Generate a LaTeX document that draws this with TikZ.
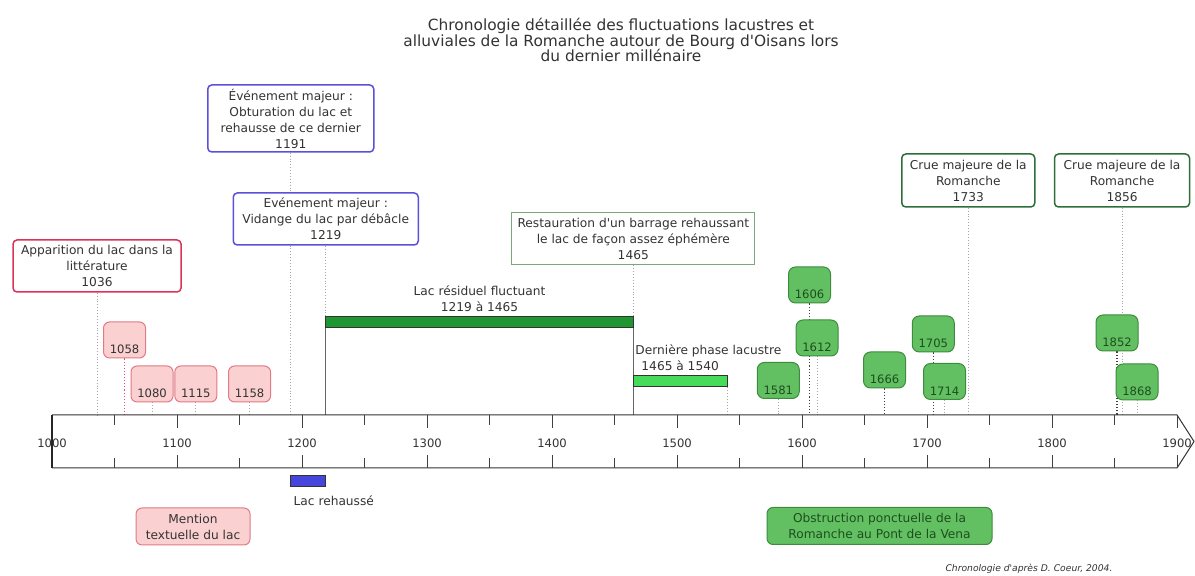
\documentclass[tikz,border=0pt]{standalone}
\usepackage{fontspec}
\setmainfont{DejaVu Sans}
\usetikzlibrary{positioning,backgrounds}
\definecolor{txtgray}{HTML}{333333}
\definecolor{evblue}{HTML}{5A50DC}
\definecolor{evred}{HTML}{DC325A}
\definecolor{mentfill}{HTML}{FAD0D0}
\definecolor{mentdraw}{HTML}{E07A86}
\definecolor{obsfill}{HTML}{62C062}
\definecolor{obsdraw}{HTML}{3C8C3C}
\definecolor{obstext}{HTML}{1E4E1E}
\definecolor{cruedraw}{HTML}{2E6E3A}
\definecolor{restodraw}{HTML}{7AA87A}
\definecolor{lacdark}{HTML}{1E9632}
\definecolor{laclight}{HTML}{46DC5A}
\definecolor{lacblue}{HTML}{4646DC}
\newcommand{\boxfont}{\fontsize{6.1}{8}\selectfont}
\newcommand{\yrfont}{\fontsize{5.8}{7}\selectfont}
\newcommand{\titlefont}{\fontsize{7.7}{7.9}\selectfont}
\newcommand{\apos}{\textquotesingle}
\tikzset{
  event/.style    = {draw, fill=white, rounded corners=2pt, line width=0.75pt, align=center,
                     inner xsep=2pt, inner ysep=1pt, font=\boxfont, text=txtgray},
  mention/.style  = {draw=mentdraw, fill=mentfill, rounded corners=3pt, line width=0.5pt,
                     minimum width=21pt, inner xsep=0pt, inner ysep=1.5pt,
                     text height=14.5pt, text depth=0.5pt, font=\yrfont, text=txtgray},
  obstr/.style    = {draw=obsdraw, fill=obsfill, rounded corners=3.5pt, line width=0.5pt,
                     minimum width=21pt, inner xsep=0pt, inner ysep=1.5pt,
                     text height=14.5pt, text depth=0.5pt, font=\yrfont, text=obstext},
  legbox/.style   = {rounded corners=3pt, line width=0.5pt, align=center, font=\boxfont,
                     minimum height=18.5pt, inner sep=1pt},
  conn/.style     = {densely dotted, black!35, line width=0.45pt},
  conndark/.style = {densely dotted, black!75, line width=0.55pt},
  drop/.style     = {black!60, line width=0.45pt},
  period/.style   = {draw=black!80, line width=0.5pt, minimum height=5.5pt, inner sep=0pt},
  lbl/.style      = {font=\boxfont, text=txtgray, inner sep=0pt},
  axis/.style     = {black!80, line width=0.5pt},
  tick/.style     = {black!75, line width=0.5pt},
}

\begin{document}
\begin{tikzpicture}[x=0.625pt,y=-0.5pt]
  \useasboundingbox (958.4,0) rectangle (1914.4,576);

  \node[font=\titlefont, text=txtgray, align=center] (title) at (1455.2,40)
    {Chronologie détaillée des fluctuations lacustres et\\
     alluviales de la Romanche autour de Bourg d\apos Oisans lors\\
     du dernier millénaire};

  % axe du temps
  \coordinate (axtop) at (1000,415);
  \coordinate (axbot) at (1000,468);
  \draw[axis] (axtop) -- (1900,415) -- (1913.6,441.5) -- (1900,468) -- (axbot);
  \draw[black!85, line width=1.1pt] (axtop) -- (axbot);
  \foreach \yr in {1100,1200,...,1900}
    \draw[tick] (\yr,415) -- (\yr,428) (\yr,455) -- (\yr,468);
  \foreach \yr in {1050,1150,...,1850}
    \draw[tick] (\yr,415) -- (\yr,425) (\yr,458) -- (\yr,468);
  \foreach \yr in {1000,1100,...,1900}
    \node[font=\yrfont, text=txtgray] (lab\yr) at (\yr,443) {\yr};

  % grands evenements
  \node[event, draw=evred, minimum width=84pt, minimum height=26pt] (b1036) at (1036,266)
    {Apparition du lac dans la\\littérature\\1036};
  \node[event, draw=evblue, minimum width=83pt, minimum height=33.5pt] (b1191) at (1191,118.5)
    {Événement majeur :\\Obturation du lac et\\rehausse de ce dernier\\1191};
  \node[event, draw=evblue, minimum width=92.5pt, minimum height=26pt] (b1219) at (1219,219)
    {Evénement majeur :\\Vidange du lac par débâcle\\1219};
  \node[event, draw=restodraw, sharp corners, line width=0.5pt, minimum width=121.5pt,
        minimum height=26pt] (b1465) at (1465,239)
    {Restauration d\apos un barrage rehaussant\\le lac de façon assez éphémère\\1465};
  \node[event, draw=cruedraw, minimum width=66.5pt, minimum height=26.5pt] (b1733) at (1733,180.5)
    {Crue majeure de la\\Romanche\\1733};
  \node[event, draw=cruedraw, minimum width=67.5pt, minimum height=26.5pt] (b1856) at (1856,180.5)
    {Crue majeure de la\\Romanche\\1856};

  % mentions textuelles
  \node[mention] (m1058) at (1058,340) {1058};
  \node[mention] (m1080) at (1080,384) {1080};
  \node[mention] (m1115) at (1115,384) {1115};
  \node[mention] (m1158) at (1158,384) {1158};

  % obstructions au Pont de la Vena
  \node[obstr] (o1581) at (1581,380.5) {1581};
  \node[obstr] (o1606) at (1606,285) {1606};
  \node[obstr] (o1612) at (1612,338) {1612};
  \node[obstr] (o1666) at (1666,370) {1666};
  \node[obstr] (o1705) at (1705,334) {1705};
  \node[obstr] (o1714) at (1714,381.5) {1714};
  \node[obstr] (o1852) at (1852,333) {1852};
  \node[obstr] (o1868) at (1868,382) {1868};

  % periodes lacustres
  \node[period, fill=lacdark, minimum width=153.75pt] (lacres) at (1342,322.5) {};
  \node[lbl, align=center, above=2pt of lacres] (lacreslab)
    {Lac résiduel fluctuant\\1219 à 1465};
  \node[period, fill=laclight, minimum width=46.875pt] (lacder) at (1502.5,381.5) {};
  \node[lbl, above=2pt of lacder] (lacderyr) {1465 à 1540};
  \node[lbl, anchor=south west] (lacderlab) at (1466.4,357) {Dernière phase lacustre};

  % liens vers l'axe
  \begin{scope}[on background layer]
    \draw[conn] (b1036.south) -- (b1036.south |- axtop);
    \draw[conn] (b1191.south) -- (b1191.south |- axtop);
    \draw[conn] (b1219.south) -- (b1219.south |- lacres.north);
    \draw[drop] (lacres.south west) -- (lacres.south west |- axtop);
    \draw[conn] (b1465.south) -- (b1465.south |- lacres.north);
    \draw[drop] (lacres.south east) -- (lacres.south east |- axtop);
    \draw[conn] (lacder.south east) -- (lacder.south east |- axtop);
    \draw[conn] (b1733.south) -- (b1733.south |- axtop);
    \draw[conn] (b1856.south) -- (b1856.south |- axtop);
    \draw[densely dotted, evred!85, line width=0.55pt] (m1058.south) -- (m1058.south |- axtop);
    \foreach \n in {m1080,m1115,m1158,o1581,o1612,o1714,o1868}
      \draw[conn] (\n.south) -- (\n.south |- axtop);
    \foreach \n in {o1606,o1666,o1705,o1852}
      \draw[conndark] (\n.south) -- (\n.south |- axtop);
  \end{scope}

  % legende
  \node[period, fill=lacblue, minimum width=17.5pt] (lacreh) at (1205,481.5) {};
  \node[lbl, below right=4pt and 1.5pt of lacreh.south west] (lacrehlab) {Lac rehaussé};
  \node[legbox, draw=mentdraw, fill=mentfill, text=txtgray, minimum width=57pt]
    (legment) at (1112.8,526.5) {Mention\\textuelle du lac};
  \node[legbox, draw=obsdraw, fill=obsfill, text=obstext, minimum width=112.5pt]
    (legobs) at (1662,526) {Obstruction ponctuelle de la\\Romanche au Pont de la Vena};
  \node[font=\fontsize{4.6}{5}\selectfont\itshape, text=txtgray, anchor=east]
    (credit) at (1854,569) {Chronologie d\apos après D. Coeur, 2004.};
\end{tikzpicture}
\end{document}
